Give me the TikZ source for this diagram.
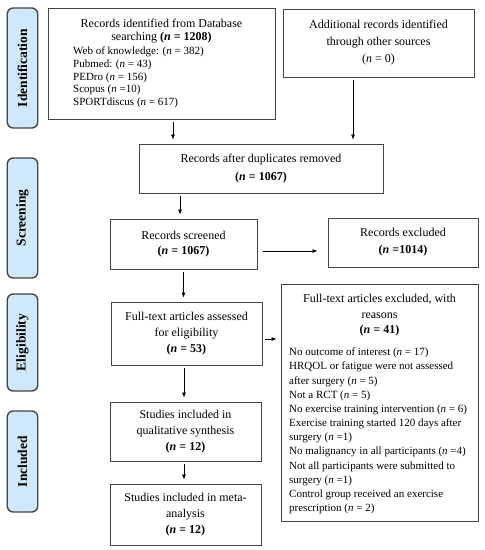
\documentclass[tikz,border=0pt]{standalone}
\usepackage{fontspec}
\setmainfont{Liberation Serif}
\usetikzlibrary{arrows.meta}
\definecolor{sideblue}{RGB}{208,233,250}
\definecolor{edge}{RGB}{70,70,70}
\begin{document}
\begin{tikzpicture}[x=1pt,y=-1pt,
  box/.style={draw=edge, line width=1pt, inner sep=0pt, align=center},
  side/.style={draw=edge, line width=1.4pt, fill=sideblue, rounded corners=6pt,
    minimum height=30.5pt, inner sep=0pt, rotate=90,
    font=\fontsize{13.5}{15}\selectfont\bfseries},
  txt/.style={inner sep=0pt},
  arr/.style={-{Latex[length=5pt,width=4pt]}, line width=0.6pt, shorten <=2pt, shorten >=4pt}]
\useasboundingbox (0,0) rectangle (485,550);
% side labels
\node[side, minimum width=120pt] (ident) at (22.5,68) {Identification};
\node[side, minimum width=120pt] (screen) at (22.5,218) {Screening};
\node[side, minimum width=97pt] (elig) at (22.5,342.5) {Eligibility};
\node[side, minimum width=101pt] (incl) at (22.5,461.5) {Included};
% boxes
\node[box, minimum width=227pt, minimum height=111pt] (db) at (161.5,63.5) {};
\node[txt, align=center, font=\fontsize{12}{13}\selectfont] (dbhead) at (161.5,31.5)
  {Records identified from Database\\searching \textbf{(\textit{n} = 1208)}};
\node[txt, align=left, anchor=west, font=\fontsize{11}{12.7}\selectfont] (dblist) at (73,77.5)
  {Web of knowledge: (\textit{n} = 382)\\Pubmed: (\textit{n} = 43)\\PEDro (\textit{n} = 156)\\Scopus (\textit{n} =10)\\SPORTdiscus (\textit{n} = 617)};
\node[box, minimum width=191pt, minimum height=68pt, font=\fontsize{12}{17}\selectfont] (add) at (378.5,43)
  {Additional records identified\\through other sources\\(\textit{n} = 0)};
\node[box, minimum width=244pt, minimum height=49pt, font=\fontsize{12}{18}\selectfont] (dup) at (261,168.5)
  {Records after duplicates removed\\\textbf{(\textit{n} = 1067)}};
\node[box, minimum width=147pt, minimum height=50pt, font=\fontsize{12}{15}\selectfont] (scr) at (183.5,244)
  {Records screened\\\textbf{(\textit{n} = 1067)}};
\node[box, minimum width=150pt, minimum height=49pt, font=\fontsize{12}{17}\selectfont] (exc) at (403,242.5)
  {Records excluded\\\textbf{(\textit{n} =1014)}};
\node[box, minimum width=151pt, minimum height=63pt, font=\fontsize{12}{16}\selectfont] (ft) at (186.5,333.5)
  {Full-text articles assessed\\for eligibility\\\textbf{(\textit{n} = 53)}};
\node[box, minimum width=197pt, minimum height=237pt] (rsn) at (379.5,402.5) {};
\node[txt, align=center, font=\fontsize{12}{15.5}\selectfont] (rsnhead) at (379.5,315.5)
  {Full-text articles excluded, with\\reasons\\\textbf{(\textit{n} = 41)}};
\node[txt, align=left, anchor=west, font=\fontsize{11}{14.18}\selectfont] (rsnlist) at (289,431)
  {No outcome of interest (\textit{n} = 17)\\HRQOL or fatigue were not assessed\\after surgery (\textit{n} = 5)\\Not a RCT (\textit{n} = 5)\\No exercise training intervention (\textit{n} = 6)\\Exercise training started 120 days after\\surgery (\textit{n} =1)\\No malignancy in all participants (\textit{n} =4)\\Not all participants were submitted to\\surgery (\textit{n} =1)\\Control group received an exercise\\prescription (\textit{n} = 2)};
\node[box, minimum width=151pt, minimum height=59pt, font=\fontsize{12}{16}\selectfont] (qual) at (185.5,431.5)
  {Studies included in\\qualitative synthesis\\\textbf{(\textit{n} = 12)}};
\node[box, minimum width=151pt, minimum height=61pt, font=\fontsize{12}{16}\selectfont] (meta) at (185.5,514.5)
  {Studies included in meta-\\analysis\\\textbf{(\textit{n} = 12)}};
% arrows
\draw[arr] ([xshift=11.5pt]db.south) -- ([xshift=11.5pt]db.south |- dup.north);
\draw[arr] ([xshift=-25.5pt]add.south) -- ([xshift=-25.5pt]add.south |- dup.north);
\draw[arr] ([xshift=-81pt]dup.south) -- ([xshift=-81pt]dup.south |- scr.north);
\draw[arr, shorten <=5pt, shorten >=10pt] ([yshift=-7pt]scr.east) -- ([yshift=-7pt]scr.east -| exc.west);
\draw[arr] (scr.south) -- (scr.south |- ft.north);
\draw[arr] ([yshift=-5.5pt]ft.east) -- ([yshift=-5.5pt]ft.east -| rsn.west);
\draw[arr] ([xshift=-2.5pt]ft.south) -- ([xshift=-2.5pt]ft.south |- qual.north);
\draw[arr] ([xshift=-1.5pt]qual.south) -- ([xshift=-1.5pt]qual.south |- meta.north);
\end{tikzpicture}
\end{document}
